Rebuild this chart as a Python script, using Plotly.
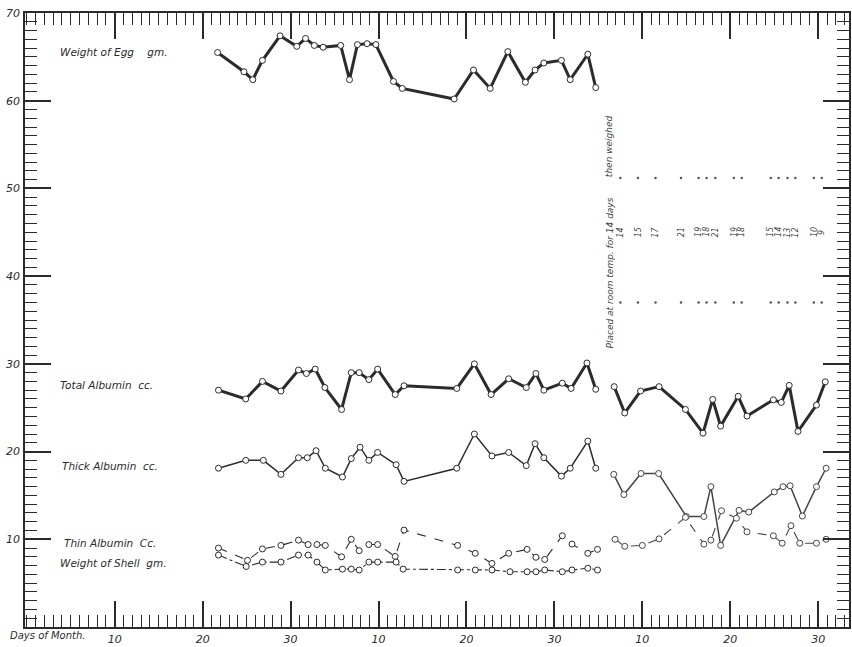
import plotly.graph_objects as go

# ---------------- data ----------------
# Fresh eggs (days counted continuously across months)
egg_days = [21.7, 24.7, 25.7, 26.8, 28.8, 30.7, 31.7, 32.7, 33.7, 35.7, 36.7, 37.6, 38.7, 39.7,
            41.7, 42.7, 48.6, 50.8, 52.7, 54.7, 56.7, 57.8, 58.8, 60.8, 61.8, 63.8, 64.7]
egg_weight = [65.5, 63.3, 62.4, 64.6, 67.4, 66.2, 67.1, 66.3, 66.1, 66.3, 62.4, 66.4, 66.5, 66.4,
              62.2, 61.4, 60.2, 63.5, 61.4, 65.6, 62.1, 63.5, 64.3, 64.6, 62.4, 65.3, 61.5]

total_days = [21.8, 24.9, 26.8, 28.9, 30.9, 31.8, 32.8, 33.9, 35.8, 36.9, 37.8, 38.9, 39.9,
              41.9, 42.9, 48.9, 50.9, 52.8, 54.8, 56.8, 57.9, 58.8, 60.9, 61.9, 63.7, 64.7]
total_albumin = [27.0, 26.0, 28.0, 26.9, 29.3, 28.9, 29.4, 27.3, 24.8, 29.0, 29.0, 28.2, 29.4,
                 26.5, 27.5, 27.2, 30.0, 26.5, 28.3, 27.3, 28.9, 27.0, 27.8, 27.2, 30.1, 27.1]

thick_days = [21.8, 24.9, 26.9, 28.9, 30.9, 31.9, 32.9, 33.95, 35.9, 36.9, 37.9, 38.9, 39.9,
              42.0, 42.9, 48.9, 50.9, 52.9, 54.8, 56.8, 57.8, 58.8, 60.8, 61.8, 63.8, 64.7]
thick_albumin = [18.1, 19.0, 19.0, 17.4, 19.3, 19.3, 20.1, 18.1, 17.1, 19.2, 20.5, 19.0, 19.9,
                 18.5, 16.6, 18.1, 22.0, 19.5, 19.9, 18.4, 20.9, 19.3, 17.2, 18.1, 21.2, 18.1]

thin_days = [21.8, 25.1, 26.8, 28.9, 30.9, 32.0, 33.0, 33.95, 35.8, 36.9, 37.8, 38.9, 39.9,
             41.9, 42.9, 49.0, 51.0, 52.9, 54.8, 56.9, 57.9, 58.9, 60.9, 62.0, 63.8, 64.9]
thin_albumin = [9.0, 7.6, 8.9, 9.3, 9.9, 9.4, 9.4, 9.3, 8.0, 10.0, 8.7, 9.4, 9.4,
                8.05, 11.05, 9.3, 8.4, 7.25, 8.4, 8.85, 7.95, 7.7, 10.4, 9.45, 8.4, 8.85]

shell_days = [21.8, 24.95, 26.8, 28.9, 30.9, 32.0, 33.0, 33.95, 35.9, 36.9, 37.8, 38.9, 39.9,
              42.0, 42.8, 49.0, 51.0, 52.9, 54.95, 56.9, 57.9, 58.9, 60.9, 62.0, 63.8, 64.9]
shell_weight = [8.2, 6.9, 7.4, 7.4, 8.2, 8.2, 7.4, 6.5, 6.6, 6.6, 6.5, 7.4, 7.4,
                7.4, 6.6, 6.5, 6.5, 6.5, 6.3, 6.3, 6.3, 6.5, 6.3, 6.5, 6.7, 6.5]

# Eggs kept at room temperature for 14 days, then weighed
stored_total_days = [66.8, 68.0, 69.8, 71.9, 74.9, 76.9, 78.0, 78.9, 80.9, 81.9, 84.9, 85.8, 86.7, 87.7, 89.8, 90.8]
stored_total = [27.4, 24.4, 26.9, 27.4, 24.8, 22.1, 25.95, 22.9, 26.3, 24.05, 25.9, 25.6, 27.55, 22.3, 25.3, 27.95]

stored_thick_days = [66.75, 67.9, 69.85, 71.85, 75.0, 77.0, 77.8, 78.9, 81.0, 82.1, 85.0, 86.0, 86.8, 88.2, 89.8, 90.9]
stored_thick = [17.4, 15.1, 17.5, 17.5, 12.6, 12.6, 16.0, 9.3, 13.3, 13.1, 15.4, 16.0, 16.1, 12.65, 16.0, 18.1]

stored_thin_days = [66.9, 68.0, 70.0, 71.9, 74.9, 77.0, 77.8, 79.0, 80.7, 81.9, 84.9, 85.9, 86.9, 87.9, 89.8, 90.9]
stored_thin = [10.0, 9.2, 9.3, 10.05, 12.5, 9.45, 9.9, 13.25, 12.4, 10.85, 10.4, 9.55, 11.55, 9.55, 9.55, 10.0]

# Handwritten numbers in the "room temp." column
note_days = [67.5, 69.5, 71.5, 74.4, 76.4, 77.3, 78.3, 80.4, 81.3, 84.6, 85.5, 86.5, 87.4, 89.5, 90.4]
note_numbers = ["14", "15", "17", "21", "19", "18", "21", "19", "18", "15", "14", "13", "12", "10", "9"]
note_dot_levels = [51.2, 37.0]

x_tick_vals = [10, 20, 30, 40, 50, 60, 70, 80, 90]
x_tick_text = ["10", "20", "30", "10", "20", "30", "10", "20", "30"]
y_tick_vals = [10, 20, 30, 40, 50, 60, 70]
y_tick_text = ["10", "20", "30", "40", "50", "60", "70"]

series_labels = [
    ("Weight of Egg    gm.", 3.6, 65.5),
    ("Total Albumin  cc.", 3.6, 27.6),
    ("Thick Albumin  cc.", 3.8, 18.4),
    ("Thin Albumin  Cc.", 4.0, 9.6),
    ("Weight of Shell  gm.", 3.6, 7.3),
]

# ---------------- figure ----------------
INK = "#2b2b2b"
FONT = "DejaVu Sans"

fig = go.Figure()


def add_series(x, y, width, dash="solid", color=INK, msize=6):
    fig.add_trace(go.Scatter(
        x=x, y=y, mode="lines+markers",
        line=dict(color=color, width=width, dash=dash),
        marker=dict(symbol="circle", size=msize, color="white",
                    line=dict(color=color, width=1)),
        showlegend=False, hoverinfo="x+y",
    ))


add_series(egg_days, egg_weight, 3)
add_series(total_days, total_albumin, 3)
add_series(thick_days, thick_albumin, 1.5)
add_series(thin_days, thin_albumin, 1.1, dash="dash")
add_series(shell_days, shell_weight, 1.1, dash="dashdot")

add_series(stored_total_days, stored_total, 3)
add_series(stored_thick_days, stored_thick, 1.5, color="#444444")
add_series(stored_thin_days, stored_thin, 1.1, dash="dash", color="#444444")

# faint dots of the handwritten column
for lvl in note_dot_levels:
    fig.add_trace(go.Scatter(
        x=note_days, y=[lvl] * len(note_days), mode="markers",
        marker=dict(size=2.5, color="#555555"), showlegend=False, hoverinfo="skip",
    ))

for d, t in zip(note_days, note_numbers):
    fig.add_annotation(x=d, y=45.0, xref="x", yref="y", text=t, showarrow=False,
                       textangle=-90, font=dict(family=FONT, size=8, color="#444444", style="italic"))

fig.add_annotation(x=66.3, y=40.4, xref="x", yref="y", text="Placed at room temp. for 14 days",
                   showarrow=False, textangle=-90,
                   font=dict(family=FONT, size=9, color="#444444", style="italic"))
fig.add_annotation(x=66.3, y=54.8, xref="x", yref="y", text="then weighed",
                   showarrow=False, textangle=-90,
                   font=dict(family=FONT, size=9, color="#444444", style="italic"))

for text, x, y in series_labels:
    fig.add_annotation(x=x, y=y, xref="x", yref="y", text=text, showarrow=False,
                       xanchor="left", yanchor="middle",
                       font=dict(family=FONT, size=10.5, color=INK, style="italic"))

fig.add_annotation(x=-0.021, y=-0.014, xref="paper", yref="paper", text="Days of Month.",
                   showarrow=False, xanchor="left", yanchor="middle",
                   font=dict(family=FONT, size=10, color=INK, style="italic"))

axis_common = dict(
    showgrid=False, zeroline=False, showline=True, linecolor=INK, linewidth=1.5,
    mirror="allticks", ticks="inside", tickcolor=INK, tickwidth=1.5,
    tickfont=dict(family=FONT, size=11, color=INK, style="italic"),
)

fig.update_xaxes(
    range=[-0.2, 93.5], tickmode="array", tickvals=x_tick_vals, ticktext=x_tick_text,
    ticklen=26, ticklabelstandoff=1,
    minor=dict(tickmode="linear", tick0=0, dtick=1, ticks="inside", ticklen=12,
               tickcolor=INK, tickwidth=1),
    **axis_common,
)
fig.update_yaxes(
    range=[0, 70], tickmode="array", tickvals=y_tick_vals, ticktext=y_tick_text,
    ticklen=26, ticklabelstandoff=1,
    minor=dict(tickmode="linear", tick0=0, dtick=1, ticks="inside", ticklen=12,
               tickcolor=INK, tickwidth=1),
    **axis_common,
)

fig.update_layout(
    width=852, height=647,
    margin=dict(l=25, r=1, t=13, b=20),
    paper_bgcolor="white", plot_bgcolor="white",
    showlegend=False,
)

# remove the browser's default 8px page margin so the figure fills the window
fig.write_html("out.html",
               config={"displayModeBar": False},
               post_script="document.body.style.margin='0';document.body.style.overflow='hidden';")
